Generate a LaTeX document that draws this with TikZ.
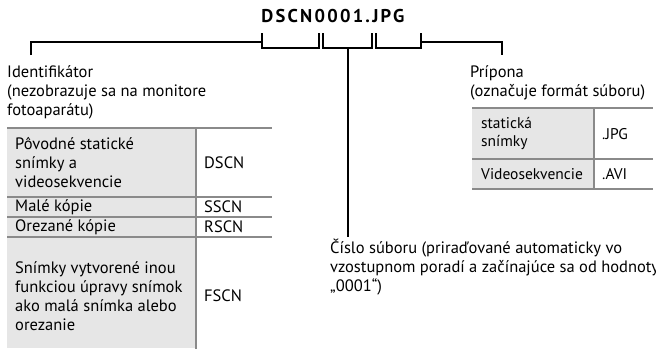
\documentclass[tikz,border=0pt]{standalone}
\usepackage{fontspec}
\setmainfont{PT Sans}
\definecolor{tgray}{HTML}{8A8A8A}
\definecolor{tfill}{HTML}{E6E6E6}
\begin{document}
\begin{tikzpicture}[x=1pt,y=-1pt,
  txt/.style={inner sep=0pt, align=left, font=\fontsize{16.5}{19}\selectfont},
  lbl/.style={txt, anchor=north west},
  cell/.style={txt, anchor=west},
  rcell/.style={cell, font=\fontsize{15.5}{18}\selectfont},
  brk/.style={line width=2pt, draw=black},
  rule/.style={line width=2.5pt, draw=tgray},
]
\useasboundingbox (0,0) rectangle (656,349);

% title
\node[inner sep=0pt, font=\fontsize{18.5}{21}\selectfont\bfseries\addfontfeature{LetterSpace=12}] (title) at (333,16) {DSCN0001.JPG};

% labels
\node[lbl] (ident) at (7,65) {Identifikátor\\(nezobrazuje sa na monitore\\fotoaparátu)};
\node[lbl] (ext) at (470,65) {Prípona\\(označuje formát súboru)};
\node[lbl] (num) at (330,239) {Číslo súboru (priraďované automaticky vo\\vzostupnom poradí a začínajúce sa od hodnoty\\„0001“)};

% bracket coordinates
\coordinate (identtop) at (31,55);
\coordinate (exttop) at (502,55);
\coordinate (numtop) at (347.5,237);

% brackets
\draw[brk] (identtop) |- (262,42);
\draw[brk] (262,33) -- (262,48) -- (319,48) -- (319,33);
\draw[brk] (323,33) -- (323,48) -- (372,48) -- (372,33);
\draw[brk] (376,33) -- (376,48) -- (421,48) -- (421,33);
\draw[brk] (421,42) -| (exttop);
\draw[brk] (347.5,48) -- (numtop);

% left table
\fill[tfill] (7,128) rectangle (196,348);
\foreach \yy in {128,197,217,237} \draw[rule] (7,\yy) -- (272,\yy);
\draw[rule] (196,128) -- (196,349);

\node[cell] (c1) at (15,163) {Pôvodné statické\\snímky a\\videosekvencie};
\node[cell] (c2) at (15,207) {Malé kópie};
\node[cell] (c3) at (15,227) {Orezané kópie};
\node[cell] (c4) at (15,296) {Snímky vytvorené inou\\funkciou úpravy snímok\\ako malá snímka alebo\\orezanie};
\node[cell] (d1) at (204,163) {DSCN};
\node[cell] (d2) at (204,207) {SSCN};
\node[cell] (d3) at (204,227) {RSCN};
\node[cell] (d4) at (204,296) {FSCN};

% right table
\fill[tfill] (472,108) rectangle (594,189);
\foreach \yy in {108,159,189} \draw[rule] (472,\yy) -- (653,\yy);
\draw[rule] (594,108) -- (594,189);

\node[rcell] (e1) at (481,134) {statická\\snímky};
\node[rcell] (e2) at (481,174) {Videosekvencie};
\node[rcell] (f1) at (602,134) {.JPG};
\node[rcell] (f2) at (602,174) {.AVI};
\end{tikzpicture}
\end{document}
